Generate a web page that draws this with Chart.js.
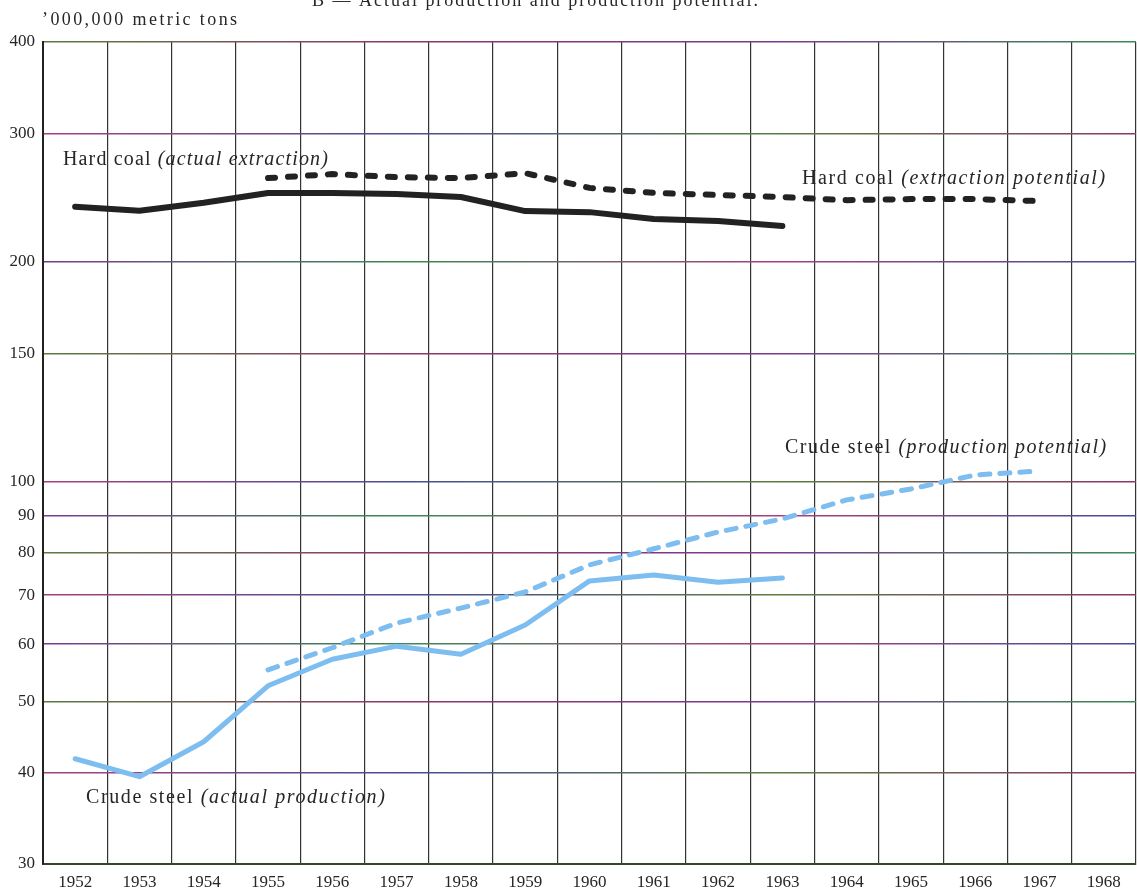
<!DOCTYPE html>
<html>
<head>
<meta charset="utf-8">
<script src="https://cdn.jsdelivr.net/npm/chart.js@4/dist/chart.umd.min.js"></script>
<style>
  html, body { margin: 0; padding: 0; background: #ffffff; }
  #wrap { width: 1137px; height: 892px; }
  canvas { display: block; }
</style>
</head>
<body>
<div id="wrap"><canvas id="chart" width="1137" height="892"></canvas></div>
<script>
// Years on the horizontal axis
const years = ['1952', '1953', '1954', '1955', '1956', '1957', '1958', '1959',
               '1960', '1961', '1962', '1963', '1964', '1965', '1966', '1967', '1968'];

// Hard coal, million metric tons
const coalActual    = [238, 235, 241, 248.6, 248.6, 247.8, 245.4, 234.8, 234, 229, 227.6, 224,
                       null, null, null, null, null];
const coalPotential = [null, null, null, 260.5, 263.8, 261.3, 260.5, 264.6, 252.6, 248.6, 247, 245.4,
                       243, 243.8, 243.8, 242.3, null];

// Crude steel, million metric tons
const steelActual    = [41.8, 39.5, 44.1, 52.6, 57.2, 59.6, 58.1, 63.7, 73.2, 74.6, 72.9, 73.9,
                        null, null, null, null, null];
const steelPotential = [null, null, null, 55.3, 59.3, 64.1, 67.2, 70.7, 77.0, 81.0, 85.4, 89.0,
                        94.5, 97.8, 102.2, 103.5, null];

// Logarithmic scale ticks
const yTicks = [30, 40, 50, 60, 70, 80, 90, 100, 150, 200, 300, 400];

const SERIF = '"Liberation Serif", "DejaVu Serif", serif';
const INK = '#262626';
const COAL = '#222222';
const STEEL = '#7dbdef';

// Printed grid lines drift between purple, green and red along their length
const gridPalette = ['#7a3a90', '#3d8a55', '#a8407e', '#4a4c95', '#5b7d42', '#8e3668'];
const gradCache = {};
function hGridColor(ctx) {
  const chart = ctx.chart;
  const area = chart.chartArea;
  if (!area) return '#7a3a90';
  const i = ctx.index || 0;
  const key = i + ':' + area.left + ':' + area.right;
  if (gradCache[key]) return gradCache[key];
  const g = chart.ctx.createLinearGradient(area.left, 0, area.right, 0);
  for (let s = 0; s < 4; s++) {
    g.addColorStop(s / 3, gridPalette[(i * 2 + s) % gridPalette.length]);
  }
  gradCache[key] = g;
  return g;
}

// Text runs: [text, italic]; size in px
const annotations = [
  { x: 63,  y: 165, width: 265, size: 20, runs: [['Hard coal ', false], ['(actual extraction)', true]] },
  { x: 802, y: 184, width: 303, size: 20, runs: [['Hard coal ', false], ['(extraction potential)', true]] },
  { x: 785, y: 453, width: 321, size: 20, runs: [['Crude steel ', false], ['(production potential)', true]] },
  { x: 86,  y: 803, width: 299, size: 20, runs: [['Crude steel ', false], ['(actual production)', true]] },
  { x: 42,  y: 25,  width: 195, size: 18, runs: [['\u2019000,000 metric tons', false]] },
  { x: 312, y: 6,   width: 446, size: 18, runs: [['B \u2014 Actual production and production potential.', false]] }
];

const textPlugin = {
  id: 'chartText',
  afterDraw(chart) {
    const ctx = chart.ctx;
    ctx.save();
    ctx.fillStyle = INK;
    ctx.textBaseline = 'alphabetic';
    ctx.textAlign = 'left';
    annotations.forEach(a => {
      const f = it => (it ? 'italic ' : '') + a.size + 'px ' + SERIF;
      // natural width, then spread letters to the printed width
      let natural = 0, chars = 0;
      ctx.letterSpacing = '0px';
      a.runs.forEach(([t, it]) => { ctx.font = f(it); natural += ctx.measureText(t).width; chars += t.length; });
      const spacing = Math.max(0, (a.width - natural) / Math.max(1, chars - 1));
      ctx.letterSpacing = spacing.toFixed(2) + 'px';
      let x = a.x;
      a.runs.forEach(([t, it]) => {
        ctx.font = f(it);
        ctx.fillText(t, x, a.y);
        x += ctx.measureText(t).width;
      });
    });
    ctx.restore();
  }
};

const bgPlugin = {
  id: 'paper',
  beforeDraw(chart) {
    const ctx = chart.ctx;
    ctx.save();
    ctx.fillStyle = '#ffffff';
    ctx.fillRect(0, 0, chart.width, chart.height);
    ctx.restore();
  }
};

const lineBase = { pointRadius: 0, pointHoverRadius: 0, tension: 0, fill: false,
                   borderJoinStyle: 'round', spanGaps: false };

new Chart(document.getElementById('chart'), {
  type: 'line',
  data: {
    labels: years,
    datasets: [
      Object.assign({}, lineBase, { label: 'Hard coal (actual extraction)', data: coalActual,
        borderColor: COAL, borderWidth: 6, borderCapStyle: 'round' }),
      Object.assign({}, lineBase, { label: 'Hard coal (extraction potential)', data: coalPotential,
        borderColor: COAL, borderWidth: 6, borderCapStyle: 'round', borderDash: [7, 13] }),
      Object.assign({}, lineBase, { label: 'Crude steel (actual production)', data: steelActual,
        borderColor: STEEL, borderWidth: 5, borderCapStyle: 'round' }),
      Object.assign({}, lineBase, { label: 'Crude steel (production potential)', data: steelPotential,
        borderColor: STEEL, borderWidth: 5, borderCapStyle: 'round', borderDash: [10, 10] })
    ]
  },
  options: {
    responsive: false,
    animation: false,
    devicePixelRatio: 1,
    layout: { padding: { top: 42, right: 1, left: 0, bottom: 0 } },
    plugins: { legend: { display: false }, tooltip: { enabled: false }, title: { display: false } },
    scales: {
      x: {
        type: 'category',
        offset: true,
        grid: { offset: true, color: '#333333', lineWidth: 1.2, drawTicks: false },
        border: { display: true, color: '#34452f', width: 2 },
        ticks: { color: INK, font: { family: SERIF, size: 17 }, padding: 8,
                 maxRotation: 0, autoSkip: false },
        afterFit(scale) { scale.height = 28; }
      },
      y: {
        type: 'logarithmic',
        min: 30,
        max: 400,
        afterBuildTicks(scale) { scale.ticks = yTicks.map(v => ({ value: v })); },
        grid: { color: hGridColor, lineWidth: 1.4, drawTicks: false },
        border: { display: true, color: '#222222', width: 2 },
        ticks: { color: INK, font: { family: SERIF, size: 17 }, padding: 8,
                 callback: v => String(v) },
        afterFit(scale) { scale.width = 43; }
      }
    }
  },
  plugins: [bgPlugin, textPlugin]
});
</script>
</body>
</html>
